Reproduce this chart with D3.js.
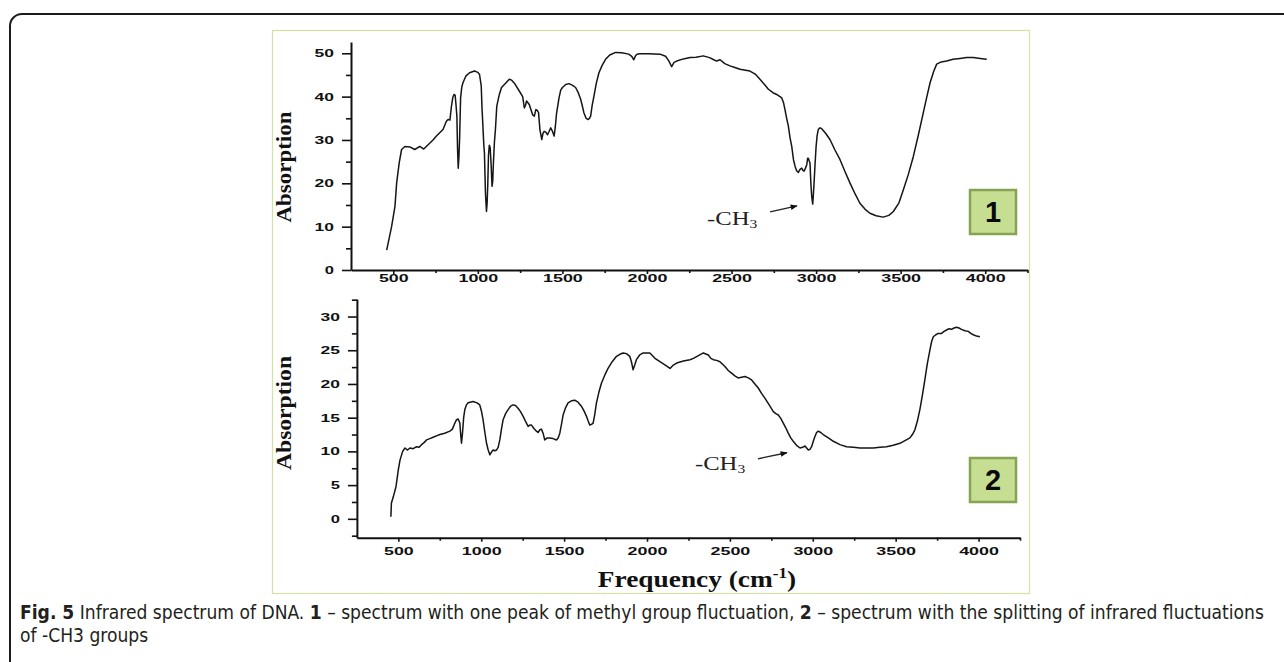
<!DOCTYPE html>
<html>
<head>
<meta charset="utf-8">
<script src="https://cdn.jsdelivr.net/npm/d3@7/dist/d3.min.js"></script>
<style>
  html, body { margin: 0; padding: 0; background: #fff; }
  svg { display: block; }
</style>
</head>
<body>
<script>
// spectrum 1 (top panel) - frequency (cm-1) and absorption
var freq1 = [461,490,510,520,535,549,569,598,627,657,680,706,735,755,794,814,824,835,843,852,859,866,871,876,880,884,888,892,898,905,912,930,951,980,1000,1010,1020,1025,1029,1035,1039,1045,1051,1055,1059,1063,1068,1073,1078,1084,1088,1092,1098,1104,1112,1127,1140,1157,1186,1200,1216,1245,1265,1275,1282,1288,1296,1304,1324,1334,1343,1352,1359,1367,1378,1385,1392,1402,1412,1422,1431,1441,1451,1458,1465,1480,1490,1500,1520,1539,1560,1578,1595,1608,1620,1627,1640,1653,1660,1667,1676,1686,1700,1716,1735,1755,1780,1814,1850,1892,1910,1922,1932,1941,1959,2010,2077,2110,2130,2146,2160,2176,2215,2255,2290,2333,2370,2395,2412,2432,2460,2491,2520,2550,2609,2640,2668,2695,2718,2745,2767,2797,2808,2816,2826,2836,2846,2856,2866,2876,2885,2895,2905,2915,2922,2929,2937,2945,2950,2954,2959,2964,2969,2974,2980,2984,2988,2994,3000,3006,3013,3023,3033,3055,3082,3110,3141,3170,3200,3230,3259,3290,3318,3355,3397,3430,3457,3490,3516,3545,3575,3605,3634,3655,3674,3695,3713,3740,3772,3810,3851,3890,3930,3970,4009];
var abs1 = [4.6,10.0,14.7,20.1,24.7,27.8,28.5,28.4,27.8,28.5,27.9,28.9,30.0,30.9,32.4,34.3,34.7,34.6,37.5,39.8,40.5,40.3,38.0,35.5,28.0,23.5,26.0,30.1,39.7,42.2,43.2,44.8,45.5,45.9,45.6,45.1,42.5,37.0,34.0,29.0,27.0,17.7,13.5,15.5,20.1,26.5,28.8,28.2,24.7,19.3,20.5,24.7,29.5,32.4,37.8,40.5,42.1,42.8,44.0,43.8,43.1,41.3,40.0,37.4,38.0,39.0,38.6,38.2,35.8,35.5,37.0,36.8,36.3,32.4,30.1,31.5,32.0,31.8,31.2,32.0,32.8,32.0,30.9,33.0,36.0,39.7,41.5,42.1,42.8,43.0,42.6,42.1,40.8,39.4,37.5,36.3,35.0,34.7,35.0,35.5,38.0,40.0,43.0,45.5,47.2,48.6,49.6,50.2,50.1,49.8,49.3,48.5,49.4,49.8,49.9,49.9,49.8,49.3,48.2,46.9,47.9,48.2,48.7,49.0,49.1,49.4,49.0,48.5,48.2,48.5,47.6,47.1,46.7,46.3,45.9,45.2,44.0,42.8,41.7,40.9,40.5,39.7,38.5,37.0,35.0,33.2,30.5,28.5,25.5,23.9,22.9,22.5,23.2,23.5,23.0,22.8,23.5,24.3,25.8,25.8,25.2,24.7,20.0,17.0,15.2,17.5,20.1,24.5,28.5,31.0,32.4,32.8,32.6,31.6,30.1,27.8,25.5,22.8,20.1,17.6,15.4,14.0,13.1,12.5,12.2,12.6,13.5,15.5,18.5,22.0,26.2,31.2,36.3,40.0,43.2,45.8,47.5,48.0,48.2,48.6,48.8,49.0,49.0,48.8,48.6];

// spectrum 2 (bottom panel)
var freq2 = [455,458,470,486,500,510,526,540,554,570,590,610,625,640,655,670,690,710,730,751,780,811,826,841,851,861,871,876,881,887,894,901,911,921,951,975,991,1001,1011,1022,1032,1042,1052,1062,1072,1082,1092,1102,1112,1122,1132,1147,1162,1177,1192,1207,1222,1237,1253,1268,1283,1293,1303,1318,1333,1343,1353,1363,1373,1383,1398,1413,1433,1454,1464,1474,1484,1494,1509,1524,1544,1564,1584,1604,1620,1635,1645,1655,1665,1675,1685,1695,1710,1725,1745,1765,1790,1816,1836,1856,1876,1896,1906,1916,1926,1936,1956,1977,2017,2048,2078,2110,2139,2159,2179,2220,2259,2280,2310,2340,2370,2385,2400,2420,2440,2470,2490,2510,2530,2550,2570,2591,2611,2631,2651,2671,2691,2711,2737,2762,2777,2792,2807,2822,2837,2852,2867,2882,2902,2923,2938,2953,2963,2973,2983,2993,3003,3013,3023,3033,3048,3063,3094,3124,3164,3204,3245,3285,3325,3365,3405,3445,3485,3526,3556,3586,3601,3616,3631,3646,3661,3676,3691,3707,3717,3727,3742,3757,3777,3792,3807,3822,3837,3852,3867,3882,3897,3918,3938,3953,3968,3988,4008];
var abs2 = [0.3,2.3,3.3,4.8,7.3,8.7,10.0,10.5,10.2,10.5,10.4,10.7,10.6,11.0,11.3,11.7,11.9,12.1,12.3,12.5,12.7,13.0,13.3,14.2,14.7,14.8,14.2,12.5,11.2,12.7,15.0,16.2,16.9,17.2,17.4,17.2,16.9,16.0,14.7,12.8,11.2,10.2,9.5,9.9,10.2,10.1,10.2,10.6,11.7,13.3,14.7,15.6,16.2,16.7,16.9,16.8,16.4,15.9,15.2,14.4,13.7,13.9,13.9,13.4,13.0,12.8,13.2,13.3,12.7,11.7,12.0,12.0,11.9,11.7,12.0,12.7,14.0,15.4,16.5,17.2,17.5,17.6,17.3,16.7,16.0,15.2,14.5,13.9,14.0,14.2,15.5,17.2,18.8,20.1,21.3,22.3,23.3,24.1,24.4,24.6,24.5,24.1,23.3,22.1,22.8,23.6,24.3,24.6,24.6,23.8,23.3,22.8,22.3,22.8,23.1,23.4,23.6,23.8,24.2,24.6,24.3,23.8,23.6,23.5,23.3,22.6,22.0,21.6,21.2,20.9,21.0,21.1,20.9,20.6,20.0,19.4,18.6,17.9,16.9,15.9,15.6,15.4,14.9,14.2,13.5,12.7,12.0,11.5,10.9,10.5,10.6,10.8,10.5,10.2,10.3,10.7,11.5,12.2,12.8,13.0,12.8,12.5,12.0,11.5,11.0,10.7,10.6,10.5,10.5,10.5,10.6,10.7,10.9,11.2,11.6,12.0,12.5,13.2,14.5,16.2,18.3,20.6,23.0,25.1,26.3,27.0,27.3,27.5,27.5,27.8,28.0,28.2,28.1,28.3,28.4,28.3,28.1,27.9,27.8,27.5,27.3,27.1,27.0];

var xMajor = [500,1000,1500,2000,2500,3000,3500,4000];
var xMinor = [750,1250,1750,2250,2750,3250,3750,4250];
var yMajor1 = [0,10,20,30,40,50];
var yMinor1 = [5,15,25,35,45];
var yMajor2 = [0,5,10,15,20,25,30];
var yMinor2 = [-2.5,2.5,7.5,12.5,17.5,22.5,27.5,32.5];

// -CH3 annotation spots [text x, text y, arrow from x, y, arrow to x, y] in data units
var note1 = [2355, 10.4, 2728, 13.4, 2887, 14.8];
var note2 = [2289, 7.2, 2669, 8.9, 2844, 9.8];

var svg = d3.select('body').append('svg')
    .attr('width', 1284)
    .attr('height', 662);

var defs = svg.append('defs');
defs.append('marker')
    .attr('id', 'arr')
    .attr('viewBox', '0 0 10 10')
    .attr('refX', 9).attr('refY', 5)
    .attr('markerWidth', 9).attr('markerHeight', 7)
    .attr('orient', 'auto')
    .attr('markerUnits', 'userSpaceOnUse')
    .append('path').attr('d', 'M0,1 L10,5 L0,9 Z').attr('fill', '#111');

// outer frame with rounded corner
svg.append('path')
    .attr('d', 'M1290,14 H22 A12,12 0 0 0 10,26 V670')
    .attr('fill', 'none')
    .attr('stroke', '#1b1b1b')
    .attr('stroke-width', 2);

// green figure frame
svg.append('rect')
    .attr('x', 272.5).attr('y', 30.5)
    .attr('width', 757).attr('height', 563)
    .attr('fill', 'none')
    .attr('stroke', '#cfe3a3')
    .attr('stroke-width', 1.2);

var x1 = d3.scaleLinear().domain([250, 4250]).range([351, 1027.5]);
var y1 = d3.scaleLinear().domain([0, 52.6]).range([270, 42]);
var x2 = d3.scaleLinear().domain([250, 4250]).range([356.9, 1020]);
var y2 = d3.scaleLinear().domain([-2.8, 32.6]).range([537.7, 299]);

function styleAxis(g) {
    g.select('.domain').attr('stroke', '#111').attr('stroke-width', 2);
    g.selectAll('.tick line').attr('stroke', '#111').attr('stroke-width', 1.6);
    g.selectAll('.tick text')
        .attr('fill', '#111')
        .style('font-family', '"Liberation Sans", Arial, sans-serif')
        .style('font-weight', 'bold')
        .style('font-size', '11px')
        .attr('lengthAdjust', 'spacingAndGlyphs')
        .attr('textLength', function (d) { return String(d).length * 10.2 - 1; });
}

function panel(x, y, yMaj, yMin, freq, abs, labelGap) {
    var x0 = y.range()[0];
    var gx = svg.append('g').attr('transform', 'translate(0,' + x0 + ')')
        .call(d3.axisBottom(x).tickValues(xMajor).tickSize(4).tickSizeOuter(0)
            .tickPadding(labelGap).tickFormat(d3.format('d')));
    styleAxis(gx);
    var gxm = svg.append('g').attr('transform', 'translate(0,' + x0 + ')')
        .call(d3.axisBottom(x).tickValues(xMinor).tickSize(3).tickFormat(''));
    gxm.select('.domain').remove();
    styleAxis(gxm);

    var y0 = x.range()[0];
    var gy = svg.append('g').attr('transform', 'translate(' + y0 + ',0)')
        .call(d3.axisLeft(y).tickValues(yMaj).tickSize(9).tickSizeOuter(0)
            .tickPadding(8).tickFormat(d3.format('d')));
    styleAxis(gy);
    var gym = svg.append('g').attr('transform', 'translate(' + y0 + ',0)')
        .call(d3.axisLeft(y).tickValues(yMin).tickSize(5).tickFormat(''));
    gym.select('.domain').remove();
    styleAxis(gym);

    var line = d3.line()
        .x(function (d, i) { return x(freq[i]); })
        .y(function (d, i) { return y(abs[i]); });
    svg.append('path')
        .datum(abs)
        .attr('d', line)
        .attr('fill', 'none')
        .attr('stroke', '#151515')
        .attr('stroke-width', 1.5)
        .attr('stroke-linejoin', 'round');
}

panel(x1, y1, yMajor1, yMinor1, freq1, abs1, 0);
panel(x2, y2, yMajor2, yMinor2, freq2, abs2, 6);

// y titles
function yTitle(cy, len) {
    svg.append('text')
        .attr('transform', 'translate(291,' + cy + ') rotate(-90)')
        .attr('text-anchor', 'middle')
        .attr('textLength', len)
        .attr('lengthAdjust', 'spacingAndGlyphs')
        .style('font-family', '"Liberation Serif", "Times New Roman", serif')
        .style('font-weight', 'bold')
        .style('font-size', '22px')
        .attr('fill', '#111')
        .text('Absorption');
}
yTitle(167, 111);
yTitle(413, 114);

// x title
var xt = svg.append('text')
    .attr('transform', 'translate(697,587) scale(1.14,1)')
    .attr('text-anchor', 'middle')
    .style('font-family', '"Liberation Serif", "Times New Roman", serif')
    .style('font-weight', 'bold')
    .style('font-size', '24px')
    .attr('fill', '#111');
xt.append('tspan').text('Frequency (cm');
xt.append('tspan').attr('dy', -9).style('font-size', '15px').text('-1');
xt.append('tspan').attr('dy', 9).text(')');

// -CH3 notes
function note(x, y, n) {
    var t = svg.append('text')
        .attr('transform', 'translate(' + x(n[0]) + ',' + y(n[1]) + ') scale(1.3,1)')
        .style('font-family', '"Liberation Serif", "Times New Roman", serif')
        .style('font-size', '19px')
        .attr('fill', '#222');
    t.append('tspan').text('-CH');
    t.append('tspan').attr('dy', 3).style('font-size', '12px').text('3');
    svg.append('line')
        .attr('x1', x(n[2])).attr('y1', y(n[3]))
        .attr('x2', x(n[4])).attr('y2', y(n[5]))
        .attr('stroke', '#222')
        .attr('stroke-width', 1.3)
        .attr('marker-end', 'url(#arr)');
}
note(x1, y1, note1);
note(x2, y2, note2);

// numbered boxes
function badge(top, label) {
    svg.append('rect')
        .attr('x', 970).attr('y', top)
        .attr('width', 46).attr('height', 44)
        .attr('fill', '#c6de92')
        .attr('stroke', '#86a354')
        .attr('stroke-width', 2.5);
    svg.append('text')
        .attr('x', 993).attr('y', top + 32)
        .attr('text-anchor', 'middle')
        .style('font-family', '"Liberation Sans", Arial, sans-serif')
        .style('font-weight', 'bold')
        .style('font-size', '29px')
        .attr('fill', '#0a0a0a')
        .text(label);
}
badge(190, '1');
badge(458, '2');

// caption
var capFont = '"Liberation Sans Narrow", "DejaVu Sans Condensed", "Open Sans", sans-serif';
var c1 = svg.append('text')
    .style('font-family', capFont)
    .style('font-size', '20px')
    .attr('fill', '#231f20');
c1.append('tspan').style('font-weight', 'bold').text('Fig. 5');
c1.append('tspan').text(' Infrared spectrum of DNA. ');
c1.append('tspan').style('font-weight', 'bold').text('1');
c1.append('tspan').text(' \u2013 spectrum with one peak of methyl group fluctuation, ');
c1.append('tspan').style('font-weight', 'bold').text('2');
c1.append('tspan').text(' \u2013 spectrum with the splitting of infrared fluctuations');
var sx = 1245 / c1.node().getComputedTextLength();
c1.attr('transform', 'translate(20,619) scale(' + sx + ',1)');

svg.append('text')
    .attr('transform', 'translate(20,642) scale(' + sx + ',1)')
    .style('font-family', capFont)
    .style('font-size', '20px')
    .attr('fill', '#231f20')
    .text('of -CH3 groups');
</script>
</body>
</html>
